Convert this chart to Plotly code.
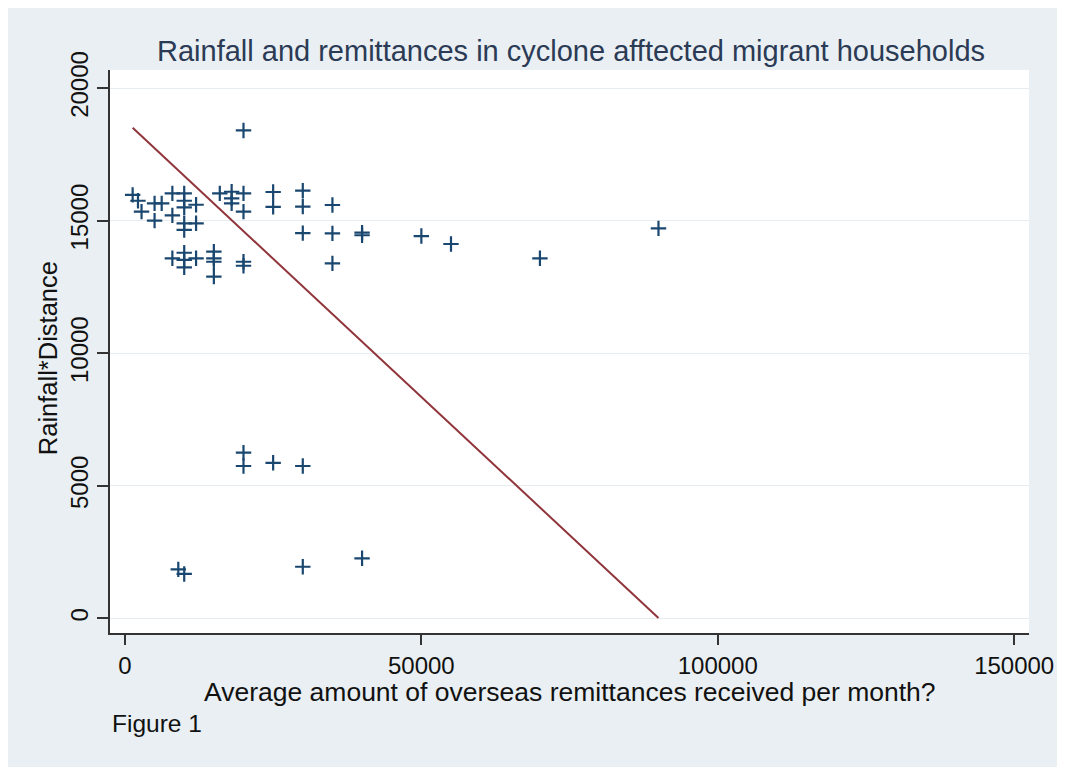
import plotly.graph_objects as go

# ---- data ----
remittances = [1300, 2200, 2800, 5000, 6200, 5000, 8000, 8000,
               10000, 10000, 10000, 12000, 10000, 10000, 12000,
               8000, 10000, 10000, 10000, 12000,
               15000, 15000, 15000, 15000,
               16000, 18000, 18000, 18000, 20000, 20000, 20000, 20000, 20000,
               25000, 25000, 30000, 30000, 30000, 35000, 35000, 35000, 40000, 40000,
               50000, 55000, 70000, 90000,
               20000, 20000, 25000, 30000,
               9000, 10000, 30000, 40000]
rainfall_distance = [15970, 15750, 15340, 15650, 15650, 15000, 16030, 15200,
                     16030, 15750, 15500, 15600, 14900, 14650, 14900,
                     13580, 13790, 13520, 13240, 13580,
                     13830, 13580, 13450, 12890,
                     16030, 16090, 15840, 15650, 16030, 15340, 18400, 13450, 13300,
                     16080, 15520, 16130, 15530, 14530, 15590, 14520, 13390, 14450, 14550,
                     14420, 14120, 13580, 14710,
                     6250, 5750, 5870, 5750,
                     1850, 1680, 1950, 2270]
fit_x = [1300, 90000]
fit_y = [18500, 20]

x_ticks = [0, 50000, 100000, 150000]
x_tick_labels = ["0", "50000", "100000", "150000"]
y_ticks = [0, 5000, 10000, 15000, 20000]
y_tick_labels = ["0", "5000", "10000", "15000", "20000"]

title_text = "Rainfall and remittances in cyclone afftected migrant households"
x_title = "Average amount of overseas remittances received per month?"
y_title = "Rainfall*Distance"
note_text = "Figure 1"

# ---- figure (page is offset by the 8px default body margin) ----
OFF = 8
W, H = 1066 - OFF, 773 - OFF
L, T = 110 - OFF, 70 - OFF
R = W - (1032 - OFF)
B = H - (633 - OFF)
pw, ph = W - L - R, H - T - B


def px_x(px):
    return (px - OFF - L) / pw


def px_y(py):
    return (H - B - (py - OFF)) / ph


FONT = "Liberation Sans, Arial, sans-serif"
navy = "#1A476F"
maroon = "#90353B"
bg = "#E9EFF2"
axis_col = "#333333"

fig = go.Figure()
fig.add_trace(go.Scatter(
    x=remittances, y=rainfall_distance, mode="markers",
    marker=dict(symbol="cross-thin", size=11, color=navy,
                line=dict(width=2.2, color=navy)),
    showlegend=False, hoverinfo="x+y"))
fig.add_trace(go.Scatter(
    x=fit_x, y=fit_y, mode="lines",
    line=dict(color=maroon, width=2), showlegend=False))

fig.update_layout(
    width=W, height=H, autosize=False,
    margin=dict(l=L, r=R, t=T, b=B),
    paper_bgcolor="white", plot_bgcolor="white",
    font=dict(family=FONT, color="#111111"),
    shapes=[
        dict(type="rect", xref="paper", yref="paper", layer="below",
             x0=px_x(0), x1=px_x(1060), y0=px_y(767), y1=px_y(6),
             fillcolor=bg, line=dict(width=0)),
        dict(type="rect", xref="paper", yref="paper", layer="below",
             x0=0, x1=1, y0=0, y1=1,
             fillcolor="white", line=dict(width=0)),
    ],
    annotations=[
        dict(text=title_text, xref="paper", yref="paper", x=px_x(573), y=px_y(51),
             xanchor="center", yanchor="middle", showarrow=False,
             font=dict(family=FONT, size=29, color="#2B3A55")),
        dict(text=x_title, xref="paper", yref="paper", x=px_x(571), y=px_y(692),
             xanchor="center", yanchor="middle", showarrow=False,
             font=dict(family=FONT, size=26.5, color="#111111")),
        dict(text=y_title, xref="paper", yref="paper", x=px_x(48), y=px_y(358),
             xanchor="center", yanchor="middle", showarrow=False, textangle=-90,
             font=dict(family=FONT, size=25.5, color="#111111")),
        dict(text=note_text, xref="paper", yref="paper", x=px_x(110), y=px_y(723),
             xanchor="left", yanchor="middle", showarrow=False,
             font=dict(family=FONT, size=24.5, color="#111111")),
    ],
)

fig.update_xaxes(
    range=[-2520, 152500], tickvals=x_ticks, ticktext=x_tick_labels,
    showgrid=False, zeroline=False,
    showline=True, linecolor=axis_col, linewidth=1.5, mirror=False,
    ticks="outside", ticklen=10, tickwidth=1.5, tickcolor=axis_col,
    tickfont=dict(family=FONT, size=24, color="#111111"),
)
fig.update_yaxes(
    range=[-547, 20680], tickvals=y_ticks, ticktext=y_tick_labels,
    tickangle=-90,
    showgrid=True, gridcolor="#E6ECEF", gridwidth=1.2, zeroline=False,
    showline=True, linecolor=axis_col, linewidth=1.5,
    ticks="outside", ticklen=11, tickwidth=1.5, tickcolor=axis_col,
    tickfont=dict(family=FONT, size=24, color="#111111"),
)

fig.write_html("out.html")
